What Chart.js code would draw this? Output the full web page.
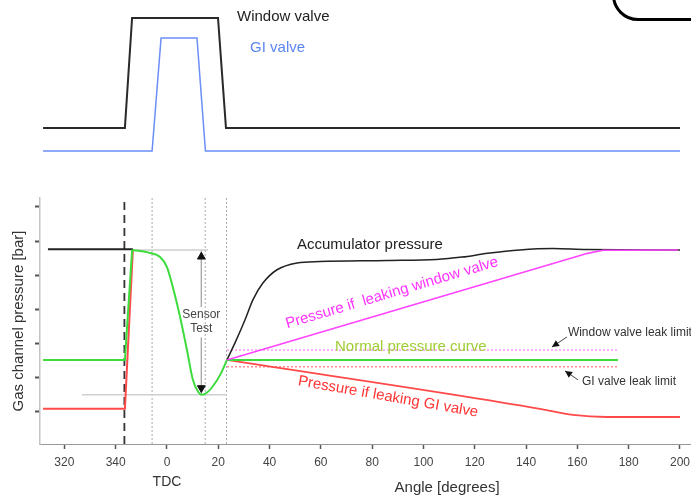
<!DOCTYPE html>
<html>
<head>
<meta charset="utf-8">
<script src="https://cdn.jsdelivr.net/npm/chart.js@4.4.1/dist/chart.umd.min.js"></script>
<style>
html,body{margin:0;padding:0;background:#fff;overflow:hidden}
#wrap{position:relative;width:691px;height:496px}
#corner{position:absolute;left:612px;top:-40px;width:120px;height:61px;box-sizing:border-box;border:3px solid #000;border-radius:26px}
</style>
</head>
<body>
<div id="wrap">
<canvas id="chart" width="691" height="496"></canvas>
<div id="corner"></div>
</div>
<script>
// crank angle, negative = 3xx deg before TDC
const xTicks = [-40, -20, 0, 20, 40, 60, 80, 100, 120, 140, 160, 180, 200]
const yTicks = [0, 1, 2, 3, 4, 5, 6]

// valve lift (upper panel)
const windowValve = [[-48.3, 3.54], [-16.4, 3.54], [-13.6, 9.09], [19.9, 9.09], [23.0, 3.54], [200, 3.54]]
const giValve = [[-48.3, 2.37], [-5.8, 2.37], [-2.3, 8.08], [11.7, 8.08], [15.0, 2.37], [200, 2.37]]

// gas channel pressure (lower panel)
const accumStart = [[-46.4, 4.76], [-13.3, 4.76]]
const accumCurve = [[23.4, 1.52], [27, 2.1], [30.4, 2.69], [33.5, 3.28], [37.4, 3.77], [42.9, 4.16], [50.7, 4.36], [59.6, 4.40],
  [85.8, 4.43], [105, 4.46], [115, 4.53], [125, 4.64], [137.6, 4.74], [150.5, 4.78], [163.7, 4.75], [200, 4.74]]
const normalStep = [[-48.3, 1.52], [-16.4, 1.52], [-13.6, 4.72], [-13.3, 4.74]]
const normalDip = [[-13.3, 4.74], [-6.6, 4.65], [-2.7, 4.53], [0, 4.24], [2.3, 3.65], [5.1, 2.78], [7.8, 1.81], [10.1, 0.94],
  [12.2, 0.58], [13.4, 0.50], [15.5, 0.56], [17.9, 0.75], [21.0, 1.12], [23.4, 1.52]]
const normalFlat = [[23.4, 1.52], [175.8, 1.52]]
const giLeakStep = [[-48.3, 0.09], [-16.4, 0.09], [-13.3, 4.74]]
const giLeakCurve = [[23.4, 1.52], [145.4, 0.09], [158.3, -0.09], [171.5, -0.15], [200, -0.15]]
const windowLeak = [[23.4, 1.52], [164, 4.64], [170, 4.73], [199.3, 4.74]]
const windowLimit = [[23.4, 1.81], [175.8, 1.81]]
const giLimit = [[23.4, 1.32], [175.8, 1.32]]

// sensor test helpers
const sensorTop = [[-13.3, 4.74], [16.0, 4.74]]
const sensorBottom = [[-33.1, 0.50], [23.4, 0.50]]
const sensorArrow = [[13.4, 4.74], [13.4, 3.07], [13.4, null], [13.4, 2.17], [13.4, 0.50]]
const sensorHeads = [[13.4, 4.54], [13.4, 0.70]]

// valve timing marks
const windowOpen = -16.6
const timingMarks = [-5.8, 14.9, 23.2]
const markSpan = [-0.94, 9.48]

const notes = [
  {text: 'Window valve', x: 27.3, y: 9.14, axis: 'yv', color: '#222', size: 15},
  {text: 'GI valve', x: 32.4, y: 7.58, axis: 'yv', color: '#5b86f0', size: 15},
  {text: 'Accumulator pressure', x: 50.7, y: 4.89, axis: 'y', color: '#222', size: 15},
  {text: 'Pressure if  leaking window valve', x: 87.7, y: 3.48, axis: 'y', color: '#ff33ff', size: 15, rot: -16.5, align: 'center'},
  {text: 'Normal pressure curve', x: 65.5, y: 1.90, axis: 'y', color: '#a0cc33', size: 15},
  {text: 'Pressure if leaking GI valve', x: 86.2, y: 0.44, axis: 'y', color: '#ff3333', size: 15, rot: 10, align: 'center'},
  {text: 'Window valve leak limit', x: 156.3, y: 2.31, axis: 'y', color: '#333', size: 12},
  {text: 'GI valve leak limit', x: 161.8, y: 0.88, axis: 'y', color: '#333', size: 12},
  {text: 'Sensor', x: 13.4, y: 2.84, axis: 'y', color: '#444', size: 12, align: 'center'},
  {text: 'Test', x: 13.4, y: 2.43, axis: 'y', color: '#444', size: 12, align: 'center'}
]
const axisNotes = [
  {text: 'TDC', x: 0, dy: 38, size: 14},
  {text: 'Angle [degrees]', x: 109.2, dy: 44, size: 15}
]
const pointers = [
  {from: [155.9, 2.19], to: [150.1, 1.90]},
  {from: [160.2, 0.94], to: [155.2, 1.20]}
]

Chart.defaults.font.family = 'Liberation Sans, Arial, sans-serif'

function pts(a) {
  return a.map(p => ({x: p[0], y: p[1]}))
}

function line(data, color, width, extra) {
  return Object.assign({
    data: pts(data), borderColor: color, borderWidth: width,
    pointRadius: 0, fill: false, tension: 0, yAxisID: 'y'
  }, extra || {})
}

function vline(x, color, width, dash) {
  return line([[x, markSpan[0]], [x, markSpan[1]]], color, width, {borderDash: dash})
}

const green = '#3ddc3d'
const datasets = [
  line(sensorHeads, '#111', 1, {showLine: false, pointRadius: 4.5, pointStyle: 'triangle',
    pointRotation: [0, 180], pointBackgroundColor: '#111', pointBorderColor: '#111'}),
  line(windowLeak, '#ff44ff', 1.6),
  line(normalStep, green, 2),
  line(normalDip, green, 2, {cubicInterpolationMode: 'monotone'}),
  line(normalFlat, green, 2),
  line(giLeakStep, '#ff4a4a', 2),
  line(giLeakCurve, '#ff4a4a', 1.8, {cubicInterpolationMode: 'monotone'}),
  line(accumStart, '#222', 1.8),
  line(accumCurve, '#222', 1.5, {cubicInterpolationMode: 'monotone'}),
  line(windowLimit, '#ff99ff', 1.5, {borderDash: [2, 2]}),
  line(giLimit, '#ff8f8f', 1.5, {borderDash: [2, 2]}),
  line(sensorTop, '#cfcfcf', 1.5),
  line(sensorBottom, '#cfcfcf', 1.5),
  line(sensorArrow, '#aaa', 1),
  vline(windowOpen, '#333', 1.8, [8, 5]),
  ...timingMarks.map(x => vline(x, '#aaa', 1, [2, 2])),
  line(windowValve, '#2a2a2a', 2, {yAxisID: 'yv'}),
  line(giValve, '#6b8ef7', 1.5, {yAxisID: 'yv'})
]

const notesPlugin = {
  id: 'notes',
  afterDraw(chart) {
    const ctx = chart.ctx
    const xs = chart.scales.x
    ctx.save()
    notes.forEach(n => {
      ctx.save()
      ctx.translate(xs.getPixelForValue(n.x), chart.scales[n.axis].getPixelForValue(n.y))
      if (n.rot) ctx.rotate(n.rot * Math.PI / 180)
      ctx.font = n.size + 'px Liberation Sans, Arial, sans-serif'
      ctx.fillStyle = n.color
      ctx.textAlign = n.align || 'left'
      ctx.textBaseline = 'middle'
      ctx.fillText(n.text, 0, 0)
      ctx.restore()
    })
    axisNotes.forEach(n => {
      ctx.font = n.size + 'px Liberation Sans, Arial, sans-serif'
      ctx.fillStyle = '#333'
      ctx.textAlign = 'center'
      ctx.textBaseline = 'middle'
      ctx.fillText(n.text, xs.getPixelForValue(n.x), xs.top + n.dy)
    })
    const ys = chart.scales.y
    pointers.forEach(p => {
      const x1 = xs.getPixelForValue(p.from[0]), y1 = ys.getPixelForValue(p.from[1])
      const x2 = xs.getPixelForValue(p.to[0]), y2 = ys.getPixelForValue(p.to[1])
      const a = Math.atan2(y2 - y1, x2 - x1)
      ctx.strokeStyle = '#444'
      ctx.lineWidth = 1
      ctx.beginPath()
      ctx.moveTo(x1, y1)
      ctx.lineTo(x2, y2)
      ctx.stroke()
      ctx.fillStyle = '#111'
      ctx.beginPath()
      ctx.moveTo(x2, y2)
      ctx.lineTo(x2 - 7 * Math.cos(a) + 3.5 * Math.sin(a), y2 - 7 * Math.sin(a) - 3.5 * Math.cos(a))
      ctx.lineTo(x2 - 7 * Math.cos(a) - 3.5 * Math.sin(a), y2 - 7 * Math.sin(a) + 3.5 * Math.cos(a))
      ctx.closePath()
      ctx.fill()
    })
    ctx.restore()
  }
}

new Chart(document.getElementById('chart'), {
  type: 'line',
  data: {datasets: datasets},
  options: {
    responsive: false,
    animation: false,
    events: [],
    layout: {padding: 0, autoPadding: false},
    plugins: {legend: {display: false}, tooltip: {enabled: false}},
    scales: {
      x: {
        type: 'linear', min: -49.5, max: 204.3,
        afterBuildTicks: s => { s.ticks = xTicks.map(v => ({value: v})) },
        afterFit: s => { s.height = 52; s.paddingLeft = 0; s.paddingRight = 0 },
        ticks: {color: '#444', font: {size: 12}, padding: 6, maxRotation: 0, autoSkip: false,
          callback: v => v < 0 ? v + 360 : v},
        grid: {drawOnChartArea: false, tickLength: 5, tickColor: '#555', tickWidth: 1.5},
        border: {color: '#999', width: 1}
      },
      y: {
        type: 'linear', position: 'left', stack: 'v', stackWeight: 246, min: -0.94, max: 6.26,
        afterBuildTicks: s => { s.ticks = yTicks.map(v => ({value: v})) },
        afterFit: s => { s.width = 40 },
        ticks: {display: false},
        grid: {drawOnChartArea: false, tickLength: 5, tickColor: '#555', tickWidth: 2},
        border: {color: '#c4c4c4', width: 1.5},
        title: {display: true, text: 'Gas channel pressure [bar]', color: '#333', font: {size: 15}, padding: {top: 10, bottom: 0}}
      },
      yv: {
        type: 'linear', position: 'left', stack: 'v', stackWeight: 198, min: 0, max: 10,
        afterFit: s => { s.width = 40 },
        ticks: {display: false},
        grid: {display: false},
        border: {display: false}
      }
    }
  },
  plugins: [notesPlugin]
})
</script>
</body>
</html>
